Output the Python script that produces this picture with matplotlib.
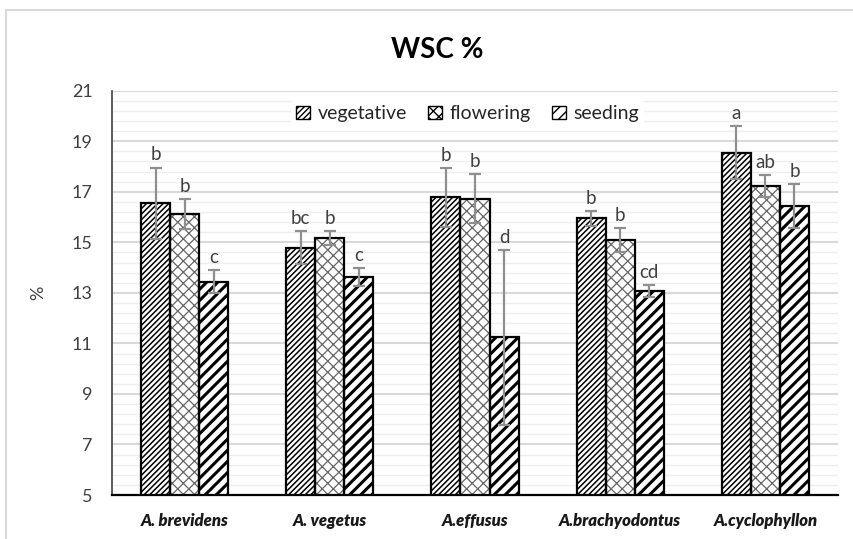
import numpy as np
import matplotlib
matplotlib.use("Agg")
import matplotlib.pyplot as plt
from matplotlib.patches import Rectangle, Patch

plt.rcParams['font.family'] = ['Lato', 'DejaVu Sans']

species = ['A. brevidens', 'A. vegetus', 'A.effusus', 'A.brachyodontus', 'A.cyclophyllon']
stages = ['vegetative', 'flowering', 'seeding']

veg = [16.54, 14.79, 16.78, 15.95, 18.55]
veg_err = [1.42, 0.64, 1.17, 0.30, 1.05]
veg_letters = ['b', 'bc', 'b', 'b', 'a']

flow = [16.12, 15.16, 16.73, 15.09, 17.24]
flow_err = [0.58, 0.27, 0.96, 0.48, 0.43]
flow_letters = ['b', 'b', 'b', 'b', 'ab']

seed = [13.44, 13.63, 11.24, 13.07, 16.44]
seed_err = [0.45, 0.36, 3.45, 0.24, 0.86]
seed_letters = ['c', 'c', 'd', 'cd', 'b']

yticks = [5, 7, 9, 11, 13, 15, 17, 19, 21]

# hatch, hatch colour, hatch line width per stage
styles = [
    ('//////', 'black', 1.1),
    ('xxx', '#666666', 0.9),
    ('///', 'black', 2.2),
]

fig = plt.figure(figsize=(8.54, 5.39), dpi=100)
ax = fig.add_axes([0.1311, 0.0816, 0.8502, 0.7501])

x = np.arange(len(species))
w = 0.2
series = [(veg, veg_err, veg_letters), (flow, flow_err, flow_letters),
          (seed, seed_err, seed_letters)]

handles = []
for k, (vals, errs, letters) in enumerate(series):
    hatch, hcol, hlw = styles[k]
    pos = x + (k - 1) * w
    with plt.rc_context({'hatch.linewidth': hlw}):
        bars = ax.bar(pos, vals, w, color='white', edgecolor=hcol,
                      hatch=hatch, linewidth=0, zorder=2)
        for b in bars:
            if hasattr(b, 'set_hatch_linewidth'):
                b.set_hatch_linewidth(hlw)
    ax.bar(pos, vals, w, color='none', edgecolor='black', linewidth=1.6,
           zorder=3)
    ax.errorbar(pos, vals, yerr=errs, fmt='none', ecolor='#8f8f8f',
                elinewidth=1.6, capsize=4.5, capthick=1.6, zorder=4)
    for xi, v, e, lab in zip(pos, vals, errs, letters):
        ax.annotate(lab, (xi, v + e), xytext=(0, 3), textcoords='offset points',
                    ha='center', va='bottom', fontsize=13.5, color='#404040')
    with plt.rc_context({'hatch.linewidth': hlw}):
        h = Patch(facecolor='white', edgecolor='black', hatch=hatch,
                  linewidth=1.0, label=stages[k])
        if hasattr(h, 'set_hatch_linewidth'):
            h.set_hatch_linewidth(hlw)
    handles.append(h)

ax.set_xlim(-0.5, len(species) - 0.5)
ax.set_ylim(5, 21)
ax.set_yticks(yticks)
ax.set_yticks(np.arange(5, 21.01, 0.4), minor=True)
ax.grid(axis='y', which='major', color='#d9d9d9', linewidth=1.5, zorder=0)
ax.grid(axis='y', which='minor', color='#eeeeee', linewidth=1.0, zorder=0)
ax.set_axisbelow(True)

ax.set_xticks(x)
ax.set_xticklabels(species, fontsize=12, fontweight='heavy', style='italic',
                   color='#1a1a1a')
ax.tick_params(axis='x', length=0, pad=13)
ax.tick_params(axis='y', which='both', length=0, pad=14, labelsize=13,
               labelcolor='#404040')

for s in ['top', 'right']:
    ax.spines[s].set_visible(False)
ax.spines['left'].set_color('#404040')
ax.spines['left'].set_linewidth(1.2)
ax.spines['bottom'].set_color('black')
ax.spines['bottom'].set_linewidth(1.6)

ax.set_ylabel('%', fontsize=13, color='#404040', labelpad=18)

leg = ax.legend(handles=handles, loc='upper center', bbox_to_anchor=(0.49, 1.0),
                ncol=3, frameon=True, fontsize=14, handlelength=0.7,
                handleheight=0.7, handletextpad=0.4, columnspacing=1.1,
                borderpad=0.25)
leg.get_frame().set_facecolor('white')
leg.get_frame().set_edgecolor('none')
leg.get_frame().set_alpha(1)
for t in leg.get_texts():
    t.set_color('#262626')

fig.text(0.512, 0.907, 'WSC %', ha='center', va='center', fontsize=20,
         fontweight='bold', color='black')

# light border round the chart area
fig.add_artist(Rectangle((6 / 854, -0.1), 1.2, 1 - 10 / 539 + 0.1,
                         transform=fig.transFigure, fill=False,
                         edgecolor='#d9d9d9', linewidth=1.5))

fig.savefig('out.png', dpi=100)
